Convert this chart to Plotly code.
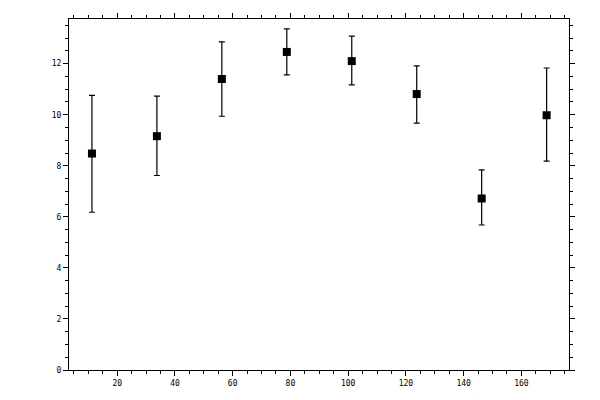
import plotly.graph_objects as go

x_pos = [11.25, 33.75, 56.25, 78.75, 101.25, 123.75, 146.25, 168.75]
y_val = [8.48, 9.16, 11.40, 12.46, 12.10, 10.81, 6.72, 9.98]
y_hi = [10.76, 10.73, 12.85, 13.36, 13.08, 11.91, 7.84, 11.83]
y_lo = [6.18, 7.62, 9.94, 11.56, 11.17, 9.67, 5.68, 8.18]

err_plus = [h - v for h, v in zip(y_hi, y_val)]
err_minus = [v - l for v, l in zip(y_val, y_lo)]

fig = go.Figure()
fig.add_trace(go.Scatter(
    x=x_pos, y=y_val, mode='markers',
    marker=dict(symbol='square', size=8, color='black'),
    error_y=dict(type='data', symmetric=False, array=err_plus, arrayminus=err_minus,
                 color='black', thickness=1.2, width=3),
    showlegend=False,
))

axis_common = dict(
    showgrid=False, zeroline=False, showline=True, linecolor='black', linewidth=1.2,
    mirror='allticks', ticks='outside', ticklen=5, tickwidth=1.2, tickcolor='black',
    tickfont=dict(family='DejaVu Sans Mono', size=8, color='black'),
)

fig.update_xaxes(range=[3.3, 176.5], tickvals=[20, 40, 60, 80, 100, 120, 140, 160],
                 minor=dict(dtick=5, tick0=0, ticks='outside', ticklen=3, tickwidth=1, tickcolor='black'),
                 **axis_common)
fig.update_yaxes(range=[0, 13.75], tickvals=[0, 2, 4, 6, 8, 10, 12],
                 minor=dict(dtick=0.5, tick0=0, ticks='outside', ticklen=3, tickwidth=1, tickcolor='black'),
                 **axis_common)

# page body adds 8px offset, so margins are shifted to compensate
fig.update_layout(
    width=600, height=400,
    margin=dict(l=61, r=39, t=11, b=38, autoexpand=False),
    paper_bgcolor='white', plot_bgcolor='white',
)

fig.write_html("out.html")
